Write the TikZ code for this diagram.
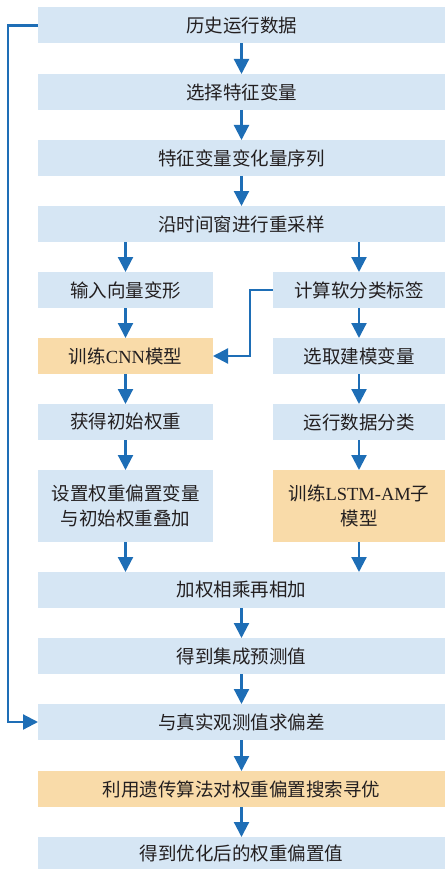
\documentclass[tikz,border=0pt]{standalone}
\usepackage{fontspec}
\setmainfont{Liberation Serif}
\newfontfamily\cjk{Noto Sans CJK SC}
\usetikzlibrary{arrows.meta}
\definecolor{boxblue}{RGB}{214,230,244}
\definecolor{boxorange}{RGB}{249,219,169}
\definecolor{arrowblue}{RGB}{30,110,182}
\definecolor{txt}{RGB}{35,31,32}
\begin{document}
\begin{tikzpicture}[x=1pt,y=-1pt,
  base/.style={inner sep=0pt,outer sep=0pt,align=center,text=txt,
    font=\fontsize{18.5}{25}\selectfont\cjk},
  bluebox/.style={base,fill=boxblue},
  orangebox/.style={base,fill=boxorange},
  wide/.style={minimum width=407pt,minimum height=36pt},
  lcol/.style={minimum width=175pt,minimum height=36pt},
  rcol/.style={minimum width=172pt,minimum height=36pt},
  arr/.style={draw=arrowblue,line width=2.2pt,-{Triangle[width=15pt,length=15pt]}},
  link/.style={draw=arrowblue,line width=2.2pt}]
\useasboundingbox (0,0) rectangle (445,869);
\node[bluebox,wide] (n1) at (241.5,25.5) {历史运行数据};
\node[bluebox,wide] (n2) at (241.5,92) {选择特征变量};
\node[bluebox,wide] (n3) at (241.5,158) {特征变量变化量序列};
\node[bluebox,wide] (n4) at (241.5,224) {沿时间窗进行重采样};
\node[bluebox,lcol] (l5) at (125.5,290) {输入向量变形};
\node[bluebox,rcol] (r5) at (359,290) {计算软分类标签};
\node[orangebox,lcol] (l6) at (125.5,356) {训练{\fontspec{Liberation Serif}CNN}模型};
\node[bluebox,rcol] (r6) at (359,356) {选取建模变量};
\node[bluebox,lcol] (l7) at (125.5,422) {获得初始权重};
\node[bluebox,rcol] (r7) at (359,422) {运行数据分类};
\node[bluebox,lcol,minimum height=72pt] (l8) at (125.5,506) {设置权重偏置变量\\与初始权重叠加};
\node[orangebox,rcol,minimum height=72pt] (r8) at (359,506) {训练{\fontspec{Liberation Serif}LSTM-AM}子\\模型};
\node[bluebox,wide] (n9) at (241.5,590) {加权相乘再相加};
\node[bluebox,wide] (n10) at (241.5,656) {得到集成预测值};
\node[bluebox,wide] (n11) at (241.5,722) {与真实观测值求偏差};
\node[orangebox,wide] (n12) at (241.5,789) {利用遗传算法对权重偏置搜索寻优};
\node[bluebox,wide,minimum height=32pt] (n13) at (241.5,853) {得到优化后的权重偏置值};
\draw[arr] (n1) -- (n2);
\draw[arr] (n2) -- (n3);
\draw[arr] (n3) -- (n4);
\draw[arr] (n4.south -| l5) -- (l5.north);
\draw[arr] (n4.south -| r5) -- (r5.north);
\draw[arr] (l5) -- (l6);
\draw[arr] (l6) -- (l7);
\draw[arr] (l7) -- (l8);
\draw[arr] (r5) -- (r6);
\draw[arr] (r6) -- (r7);
\draw[arr] (r7) -- (r8);
\draw[arr] (l8.south) -- (n9.north -| l8);
\draw[arr] (r8.south) -- (n9.north -| r8);
\draw[arr] (n9) -- (n10);
\draw[arr] (n10) -- (n11);
\draw[arr] (n11) -- (n12);
\draw[arr] (n12) -- (n13);
\draw[arr] (r5.west) -- ++(-23,0) |- (l6.east);
\draw[arr] (n1.west) -- ++(-30,0) |- (n11.west);
\end{tikzpicture}
\end{document}
